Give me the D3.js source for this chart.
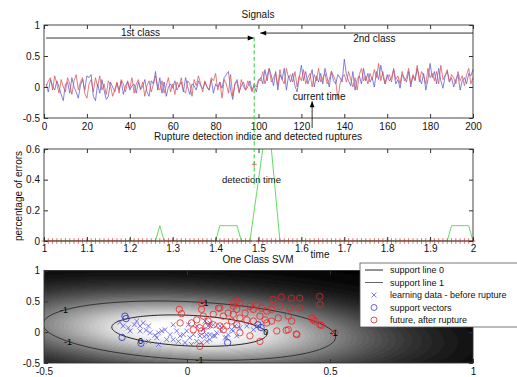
<!DOCTYPE html>
<html><head><meta charset="utf-8">
<script src="https://cdn.jsdelivr.net/npm/d3@7"></script>
<style>
body{margin:0;background:#fff}
svg{display:block}
text{font-family:"Liberation Sans",Arial,Helvetica,sans-serif}
</style>
</head><body>
<svg id="c" width="517" height="377"></svg>
<script>
// ---------- DATA ----------
const signalBlue = [
0.05,-0.08,0.12,0.02,-0.05,0.10,0.00,-0.12,-0.22,0.05,
0.08,-0.10,0.15,0.00,-0.08,-0.18,0.03,0.12,-0.05,0.18,
0.15,0.20,-0.15,-0.22,0.05,-0.10,0.12,-0.05,-0.20,-0.15,
0.08,0.00,-0.08,0.06,-0.05,0.10,-0.12,0.02,0.08,-0.05,
0.02,0.05,-0.10,0.08,-0.03,0.00,0.12,-0.08,-0.15,0.10,
0.05,0.25,-0.05,0.15,-0.10,0.08,-0.15,0.00,0.05,-0.02,
0.10,-0.05,0.02,0.08,-0.08,0.15,0.00,-0.12,0.05,0.02,
-0.05,0.10,0.02,-0.03,0.08,0.00,-0.05,0.12,-0.10,0.05,
0.00,0.08,-0.02,0.15,0.20,0.25,-0.05,-0.20,0.05,0.12,
-0.08,0.02,0.08,-0.05,0.00,0.10,-0.05,0.02,-0.08,0.10,
0.15,0.05,0.28,0.10,0.30,0.18,0.02,0.25,-0.05,0.20,
0.12,0.30,-0.05,0.18,0.08,0.22,0.02,-0.08,0.15,0.35,
0.10,0.25,0.05,0.15,0.28,0.00,0.18,0.08,0.22,0.05,
0.30,0.15,0.00,0.25,0.10,0.05,0.20,0.15,0.08,0.45,
0.20,0.10,0.02,0.25,-0.05,0.12,0.18,0.05,0.30,0.10,
0.22,0.08,0.15,0.00,0.25,0.12,0.35,0.18,0.05,0.20,
0.10,0.15,0.28,0.05,0.12,-0.02,0.20,0.15,0.08,0.25,
0.00,0.18,0.10,0.30,0.15,0.05,0.22,-0.05,0.12,0.38,
0.15,0.25,0.05,0.30,0.10,-0.02,0.18,0.25,0.08,0.15,
0.00,0.12,0.20,-0.05,0.10,0.15,0.05,0.22,0.18,0.28];
const signalRed = [
0.00,0.10,0.15,-0.05,0.18,0.05,-0.10,0.12,0.00,-0.08,
0.15,0.05,-0.12,0.10,0.20,-0.05,0.08,0.15,-0.10,-0.18,
0.05,0.12,-0.08,0.15,0.00,0.18,-0.05,0.05,-0.12,0.10,
0.02,-0.15,-0.05,0.08,-0.10,0.12,0.05,-0.08,0.10,-0.02,
0.15,-0.10,0.05,0.12,-0.05,0.08,-0.15,0.02,0.10,-0.08,
0.05,0.18,0.00,-0.05,0.10,-0.10,0.02,0.15,-0.08,0.05,
-0.12,0.08,0.00,0.15,-0.05,-0.10,0.10,0.05,-0.15,0.12,
0.02,0.18,0.05,-0.08,0.10,0.00,-0.05,0.15,0.10,0.22,
-0.05,0.08,-0.18,0.12,0.05,-0.10,0.20,-0.15,0.05,0.08,
-0.10,0.12,0.00,-0.05,0.10,0.02,-0.08,0.05,0.00,0.12,
0.10,0.25,0.05,0.18,0.30,0.08,0.15,0.22,0.02,0.28,
0.12,0.05,0.30,0.15,0.20,0.08,0.25,0.00,0.18,0.10,
0.28,0.05,0.15,0.22,0.00,0.20,0.10,0.30,0.08,0.15,
0.22,0.05,0.12,0.25,0.18,0.10,-0.20,0.05,0.15,0.20,
0.08,0.25,0.12,0.00,0.15,-0.05,0.20,0.30,0.10,0.18,
0.05,0.22,0.12,0.28,0.15,0.38,0.10,0.25,0.05,0.15,
0.20,0.08,0.30,0.12,0.18,0.05,0.25,0.10,0.15,0.30,
0.05,0.20,0.12,0.35,0.08,0.25,0.18,0.05,0.30,0.15,
0.22,0.10,0.25,0.05,0.35,0.12,0.18,0.28,0.08,0.20,
0.15,0.05,0.25,0.10,0.18,0.02,0.20,0.30,0.05,0.15];

// percentage of errors, times 1.00 .. 2.00 (step 0.01)
const errorRate = [
0,0,0,0,0,0,0,0,0,0,
0,0,0,0,0,0,0,0,0,0,
0,0,0,0,0,0,0,0.1,0,0,
0,0,0,0,0,0,0,0,0,0,
0,0.1,0.1,0.1,0.1,0.1,0,0,0,0.2,
0.4,0.6,0.8,0.6,0.3,0,0,0,0,0,
0,0,0,0,0,0,0,0,0,0,
0,0,0,0,0,0,0,0,0,0,
0,0,0,0,0,0,0,0,0,0,
0,0,0,0,0,0.1,0.1,0.1,0.1,0.1,
0];
const ruptureMarks = [
0,0,0,0,0,0,0,0,0,0,
0,0,0,0,0,0,0,0,0,0,
0,0,0,0,0,0,0,0,0,0,
0,0,0,0,0,0,0,0,0,0,
0,0,0,0,0,0,0,0,0,0.5,
0,0,0,0,0,0,0,0,0,0,
0,0,0,0,0,0,0,0,0,0,
0,0,0,0,0,0,0,0,0,0,
0,0,0,0,0,0,0,0,0,0,
0,0,0,0,0,0,0,0,0,0,
0];
const detectionTime = 1.49;
const currentTime = 125;

const learningData = [[-0.234,0.16],[-0.205,0.07],[-0.184,0.12],[-0.176,0.18],[-0.153,0.15],[-0.143,0.03],[-0.199,0.02],[-0.164,0.02],[-0.129,-0.01],[-0.112,-0.05],[-0.100,-0.01],[-0.088,0.02],[-0.077,0.04],[-0.106,-0.09],[-0.100,-0.20],[-0.048,0.12],[-0.036,0.02],[-0.024,-0.06],[-0.013,-0.04],[-0.001,0.02],[0.010,-0.09],[0.022,-0.04],[0.034,-0.15],[0.045,-0.06],[0.057,0.04],[0.069,-0.04],[0.080,-0.12],[0.092,-0.06],[0.104,-0.01],[0.121,0.02],[0.133,-0.09],[0.144,-0.04],[0.156,0.04],[0.168,0.10],[-0.030,-0.15],[-0.007,-0.17],[0.016,-0.20],[0.034,0.10],[0.005,0.12],[0.074,0.10],[0.092,0.12],[-0.048,-0.12],[-0.059,-0.04],[-0.071,-0.12],[-0.135,0.10],[-0.164,0.10],[-0.223,0.10],[-0.135,-0.15],[0.060,-0.07],[0.080,-0.04],[0.098,-0.06],[0.115,0.10],[0.139,-0.09],[0.162,0.02],[0.174,-0.06],[0.185,0.07],[0.209,0.10],[0.232,0.04],[0.249,0.10],[0.063,0.18],[0.080,0.15],[0.051,-0.17],[0.069,-0.15]];
const supportVectors = [[-0.217,0.26],[-0.213,0.22],[-0.227,-0.085],[-0.161,-0.18],[0.142,-0.17],[0.259,0.075],[0.248,0.12]];
const futureData = [[-0.027,0.37],[-0.019,0.30],[-0.024,0.15],[0.016,0.15],[0.034,0.20],[0.051,0.37],[0.057,0.26],[0.074,0.18],[0.092,0.29],[0.115,0.39],[0.127,0.26],[0.144,0.31],[0.162,0.42],[0.174,0.37],[0.022,0.04],[0.045,0.07],[0.115,0.10],[0.139,0.10],[0.156,0.18],[0.174,0.12],[0.185,0.47],[0.203,0.31],[0.220,0.42],[0.232,0.37],[0.244,0.45],[0.261,0.39],[0.279,0.34],[0.296,0.37],[0.325,0.42],[0.360,0.39],[0.395,0.39],[0.465,0.45],[0.273,0.20],[0.296,0.18],[0.319,0.23],[0.354,0.26],[0.366,0.18],[0.436,0.23],[0.448,0.18],[0.465,0.12],[0.517,-0.01],[0.314,0.02],[0.354,0.04],[0.384,-0.04],[0.255,-0.15],[0.220,-0.06],[0.185,-0.01],[0.092,0.12],[0.069,0.10],[0.051,0.02],[0.127,0.04],[0.232,0.18],[0.209,0.20],[0.185,0.23],[0.162,0.29],[0.255,0.26],[0.279,0.15],[0.045,-0.23],[0.464,0.58],[0.394,0.55],[0.365,0.55],[0.330,0.57],[0.301,0.53],[0.382,-0.03],[0.347,0.03],[0.441,0.20],[0.470,0.11],[0.051,0.47],[0.110,0.39],[0.162,0.47],[0.174,0.50]];

// SVM decision field (elliptical model) and contour levels
const fieldCenter = [0.008, 0.025];
const fieldAxisA = [0.505, -0.03];
const fieldAxisB = [-0.08, 0.48];
const contourLevels = [{r:1, label:"-1", phis:[140,75,205,265,0]}, {r:0.53, label:"0", phis:[222,0]}];

const topXTicks = [0,20,40,60,80,100,120,140,160,180,200];
const topXLabels = ["0","20","40","60","80","100","120","140","160","180","200"];
const topYTicks = [-0.5,0,0.5,1];
const topYLabels = ["-0.5","0","0.5","1"];
const midXTicks = [1,1.1,1.2,1.3,1.4,1.5,1.6,1.7,1.8,1.9,2];
const midXLabels = ["1","1.1","1.2","1.3","1.4","1.5","1.6","1.7","1.8","1.9","2"];
const midYTicks = [0,0.2,0.4,0.6];
const midYLabels = ["0","0.2","0.4","0.6"];
const botXTicks = [-0.5,0,0.5,1];
const botXLabels = ["-0.5","0","0.5","1"];
const botYTicks = [-0.5,0,0.5,1];
const botYLabels = ["-0.5","0","0.5","1"];

// ---------- DRAW ----------
const svg = d3.select("#c");
const FONT = '"Liberation Sans",Arial,Helvetica,sans-serif';
const BLUE = "#5858d4", RED = "#dc5252";

const xT = d3.scaleLinear([0,200],[44,473]);
const yT = d3.scaleLinear([-0.5,1],[118,25]);
const xM = d3.scaleLinear([1,2],[44,473]);
const yM = d3.scaleLinear([0,0.6],[241,149]);
const xB = d3.scaleLinear([-0.5,1],[44,473]);
const yB = d3.scaleLinear([-0.5,1],[363,270.5]);

function drawAxes(xs, ys, xt, xl, yt, yl, padX) {
  const [x0,x1] = xs.range();
  const [y1,y0] = ys.range();
  const g = svg.append("g");
  const style = sel => { sel.select(".domain").remove();
    sel.attr("font-family", FONT).attr("font-size", 10);
    sel.selectAll("line").attr("stroke","#333");
    sel.selectAll("text").attr("fill","#111"); };
  g.append("g").attr("transform",`translate(0,${y1})`)
    .call(d3.axisBottom(xs).tickValues(xt).tickFormat((d,i)=>xl[i]).tickSize(-4).tickPadding(padX)).call(style);
  g.append("g").attr("transform",`translate(0,${y0})`)
    .call(d3.axisTop(xs).tickValues(xt).tickFormat("").tickSize(-4)).call(style);
  g.append("g").attr("transform",`translate(${x0},0)`)
    .call(d3.axisLeft(ys).tickValues(yt).tickFormat((d,i)=>yl[i]).tickSize(-4).tickPadding(4)).call(style);
  g.append("g").attr("transform",`translate(${x1},0)`)
    .call(d3.axisRight(ys).tickValues(yt).tickFormat("").tickSize(-4)).call(style);
  g.append("rect").attr("x",x0).attr("y",y0).attr("width",x1-x0).attr("height",y1-y0)
    .attr("fill","none").attr("stroke","#333").attr("stroke-width",0.9);
  return g;
}
function txt(x,y,s,opt={}) {
  return svg.append("text").attr("x",x).attr("y",y).text(s)
    .attr("font-size",opt.size||10).attr("text-anchor",opt.anchor||"middle").attr("fill","#111");
}

// defs
const defs = svg.append("defs");
[["clipM",xM,yM],["clipB",xB,yB]].forEach(([id,xs,ys])=>{
  defs.append("clipPath").attr("id",id).append("rect")
    .attr("x",xs.range()[0]).attr("y",ys.range()[1])
    .attr("width",xs.range()[1]-xs.range()[0]).attr("height",ys.range()[0]-ys.range()[1]);
});
defs.append("marker").attr("id","ah").attr("viewBox","0 0 10 10").attr("refX",10).attr("refY",5)
  .attr("markerWidth",7).attr("markerHeight",6).attr("markerUnits","userSpaceOnUse").attr("orient","auto")
  .append("path").attr("d","M0,1L10,5L0,9Z").attr("fill","#000");

// ===== Panel 1: Signals =====
const line = d3.line().x((d,i)=>xT(i+1)).y(d=>yT(d));
svg.append("path").datum(signalBlue).attr("d",line).attr("fill","none").attr("stroke",BLUE).attr("stroke-width",0.75);
svg.append("path").datum(signalRed).attr("d",line).attr("fill","none").attr("stroke",RED).attr("stroke-width",0.75);
drawAxes(xT,yT,topXTicks,topXLabels,topYTicks,topYLabels,5);
txt(258,17.5,"Signals");
// class arrows
svg.append("line").attr("x1",xT(1)).attr("x2",xT(97.8)).attr("y1",yT(0.79)).attr("y2",yT(0.79))
  .attr("stroke","#000").attr("stroke-width",0.8).attr("marker-end","url(#ah)");
txt(xT(45),35.5,"1st class");
svg.append("line").attr("x1",xT(200)).attr("x2",xT(100.8)).attr("y1",yT(0.87)).attr("y2",yT(0.87))
  .attr("stroke","#000").attr("stroke-width",0.8).attr("marker-end","url(#ah)");
txt(xT(154),42,"2nd class");
// current time
svg.append("line").attr("x1",xT(currentTime)).attr("x2",xT(currentTime)).attr("y1",yT(-0.66)).attr("y2",yT(-0.23))
  .attr("stroke","#000").attr("stroke-width",0.8).attr("marker-end","url(#ah)");
txt(xT(currentTime)+7,99.5,"current time");

// ===== Panel 2: errors =====
const gM = svg.append("g").attr("clip-path","url(#clipM)");
gM.append("path").datum(errorRate)
  .attr("d",d3.line().x((d,i)=>xM(1+i/100)).y(d=>yM(d)))
  .attr("fill","none").attr("stroke","#62dc62").attr("stroke-width",1);
svg.append("g").selectAll("path").data(ruptureMarks).join("path")
  .attr("transform",(d,i)=>`translate(${xM(1+i/100)},${yM(d)})`)
  .attr("d","M-2.4,0H2.4M0,-2.8V2.8").attr("stroke","#d45050").attr("stroke-width",0.8).attr("fill","none");
drawAxes(xM,yM,midXTicks,midXLabels,midYTicks,midYLabels,4);
txt(258,140,"Rupture detection indice and detected ruptures");
txt(320,258,"time");
svg.append("text").attr("transform","translate(21.5,196) rotate(-90)").attr("text-anchor","middle")
  .attr("font-size",10).attr("fill","#111").text("percentage of errors");
txt(251.5,183,"detection time",{size:9.5});
// detection dashed line spanning panels
svg.append("line").attr("x1",xM(detectionTime)).attr("x2",xM(detectionTime))
  .attr("y1",yT(0.8)).attr("y2",yM(0.35))
  .attr("stroke","#33cc33").attr("stroke-width",1).attr("stroke-dasharray","4,2.5");

// ===== Panel 3: One Class SVM =====
const [bx0,bx1] = xB.range(), [by1,by0] = yB.range();
const W = Math.round(bx1-bx0), H = Math.round(by1-by0);
const det = fieldAxisA[0]*fieldAxisB[1]-fieldAxisA[1]*fieldAxisB[0];
function fieldR(x,y){
  const dx = x-fieldCenter[0], dy = y-fieldCenter[1];
  const u = ( fieldAxisB[1]*dx - fieldAxisB[0]*dy)/det;
  const v = (-fieldAxisA[1]*dx + fieldAxisA[0]*dy)/det;
  return Math.sqrt(u*u+v*v);
}
const cv = document.createElement("canvas"); cv.width=W; cv.height=H;
const ctx = cv.getContext("2d"); const im = ctx.createImageData(W,H);
for (let j=0;j<H;j++) for (let i=0;i<W;i++){
  const x = xB.invert(bx0+i+0.5), y = yB.invert(by0+(j+0.5)*(by1-by0)/H);
  const r = fieldR(x,y);
  let v = Math.pow(Math.exp(-r*r),0.72);
  v = Math.round(v*40)/40;
  const c = Math.round(Math.min(1,v*1.06)*255);
  const k=(j*W+i)*4; im.data[k]=c; im.data[k+1]=c; im.data[k+2]=c; im.data[k+3]=255;
}
ctx.putImageData(im,0,0);
svg.append("image").attr("x",bx0).attr("y",by0).attr("width",bx1-bx0).attr("height",by1-by0)
  .attr("preserveAspectRatio","none").attr("href",cv.toDataURL());

const gB = svg.append("g").attr("clip-path","url(#clipB)");
function ellPt(r,phiDeg){
  const p = phiDeg*Math.PI/180, c=Math.cos(p), s=Math.sin(p);
  return [fieldCenter[0]+r*(c*fieldAxisA[0]+s*fieldAxisB[0]), fieldCenter[1]+r*(c*fieldAxisA[1]+s*fieldAxisB[1])];
}
const phis = d3.range(0,361,3);
contourLevels.forEach((lv,li)=>{
  gB.append("path").datum(phis.map(p=>ellPt(lv.r,p)))
    .attr("d",d3.line().x(d=>xB(d[0])).y(d=>yB(d[1])))
    .attr("fill","none").attr("stroke",li===0?"#2a2a2a":"#111").attr("stroke-width",0.9);
});
// scatter
gB.append("g").selectAll("path").data(learningData).join("path")
  .attr("transform",d=>`translate(${xB(d[0])},${yB(d[1])})`)
  .attr("d","M-2.4,-2.4L2.4,2.4M-2.4,2.4L2.4,-2.4").attr("stroke","#5a5ae6").attr("stroke-width",0.8);
gB.append("g").selectAll("circle").data(supportVectors).join("circle")
  .attr("cx",d=>xB(d[0])).attr("cy",d=>yB(d[1])).attr("r",3.2)
  .attr("fill","none").attr("stroke","#3c3cc8").attr("stroke-width",0.9);
gB.append("g").selectAll("circle").data(futureData).join("circle")
  .attr("cx",d=>xB(d[0])).attr("cy",d=>yB(d[1])).attr("r",3.2)
  .attr("fill","none").attr("stroke","#e62424").attr("stroke-width",0.8);
// contour labels
contourLevels.forEach(lv=>{
  lv.phis.forEach(p=>{
    const pt = ellPt(lv.r,p);
    gB.append("text").attr("x",xB(pt[0])).attr("y",yB(pt[1])+3.2).attr("text-anchor","middle")
      .attr("font-size",9).attr("fill","#000").text(lv.label);
  });
});
drawAxes(xB,yB,botXTicks,botXLabels,botYTicks,botYLabels,5);
txt(258,262.5,"One Class SVM");

// legend
const lg = svg.append("g");
lg.append("rect").attr("x",360).attr("y",263).attr("width",170).attr("height",64)
  .attr("fill","#fff").attr("stroke","#555").attr("stroke-width",0.8);
const legendItems = [
  {label:"support line 0", type:"line", color:"#111"},
  {label:"support line 1", type:"line", color:"#555"},
  {label:"learning data - before rupture", type:"x", color:"#5a5ae6"},
  {label:"support vectors", type:"o", color:"#3c3cc8"},
  {label:"future, after rupture", type:"o", color:"#e62424"}];
legendItems.forEach((it,i)=>{
  const y = 270 + i*12.5;
  if (it.type==="line") lg.append("line").attr("x1",365).attr("x2",383).attr("y1",y).attr("y2",y).attr("stroke",it.color).attr("stroke-width",0.9);
  else if (it.type==="x") lg.append("path").attr("transform",`translate(374,${y})`).attr("d","M-2.4,-2.4L2.4,2.4M-2.4,2.4L2.4,-2.4").attr("stroke",it.color).attr("stroke-width",0.8);
  else lg.append("circle").attr("cx",374).attr("cy",y).attr("r",3).attr("fill","none").attr("stroke",it.color).attr("stroke-width",0.8);
  lg.append("text").attr("x",390).attr("y",y+3.2).attr("font-size",9).attr("fill","#111").text(it.label);
});
</script>
</body></html>
